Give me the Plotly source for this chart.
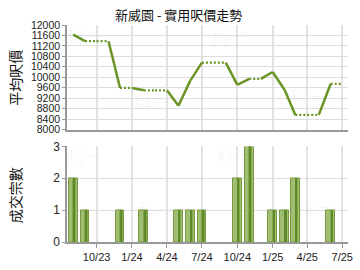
import plotly.graph_objects as go

# Monthly series, Aug 2023 - Jul 2025
months = ["2023-08-01", "2023-09-01", "2023-10-01", "2023-11-01", "2023-12-01",
          "2024-01-01", "2024-02-01", "2024-03-01", "2024-04-01", "2024-05-01",
          "2024-06-01", "2024-07-01", "2024-08-01", "2024-09-01", "2024-10-01",
          "2024-11-01", "2024-12-01", "2025-01-01", "2025-02-01", "2025-03-01",
          "2025-04-01", "2025-05-01", "2025-06-01", "2025-07-01"]
avg_price = [11630, 11380, 11380, 11380, 9590,
             9590, 9500, 9500, 9500, 8910,
             9880, 10560, 10560, 10560, 9710,
             9940, 9940, 10200, 9520, 8560,
             8560, 8560, 9750, 9750]
deals = [2, 1, 0, 0, 1,
         0, 1, 0, 0, 1,
         1, 1, 0, 0, 2,
         3, 0, 1, 1, 2,
         0, 0, 1, 0]

tick_vals = ["2023-10-01", "2024-01-01", "2024-04-01", "2024-07-01",
             "2024-10-01", "2025-01-01", "2025-04-01", "2025-07-01"]
tick_text = ["10/23", "1/24", "4/24", "7/24", "10/24", "1/25", "4/25", "7/25"]
price_ticks = list(range(8000, 12001, 400))
price_text = [str(v) for v in price_ticks]

title = "新威園 - 實用呎價走勢"
price_label = "平均呎價"
deals_label = "成交宗數"

LINE = "#6b9426"
FONT = "Liberation Sans, Arial, Noto Sans CJK TC, sans-serif"
CJK = "Noto Sans CJK TC, sans-serif"
DAY = 86400000

fig = go.Figure()

# price line: solid into months with deals, dotted where the price is carried over
sx, sy, dx, dy = [], [], [], []
for i in range(len(months) - 1):
    seg_x = [months[i], months[i + 1]]
    seg_y = [avg_price[i], avg_price[i + 1]]
    if deals[i + 1] > 0:
        sx += seg_x + [None]
        sy += seg_y + [None]
    else:
        dx += seg_x + [None]
        dy += seg_y + [None]

fig.add_trace(go.Scatter(x=dx, y=dy, mode="lines", xaxis="x2", yaxis="y2",
                         line=dict(color=LINE, width=2.2, dash="2px,2px"),
                         hoverinfo="skip", showlegend=False))
fig.add_trace(go.Scatter(x=sx, y=sy, mode="lines", xaxis="x2", yaxis="y2",
                         line=dict(color=LINE, width=2.5),
                         hoverinfo="skip", showlegend=False))

# deal-count bars with a shaded cylinder look
bx = [m for m, d in zip(months, deals) if d > 0]
by = [d for d in deals if d > 0]
fig.add_trace(go.Bar(x=bx, y=by, width=23 * DAY, xaxis="x", yaxis="y",
                     marker=dict(color="#a0bf72", line=dict(color="#78993f", width=1)),
                     showlegend=False, hoverinfo="skip"))
fig.add_trace(go.Bar(x=bx, y=by, width=9 * DAY, offset=-2 * DAY, xaxis="x", yaxis="y",
                     marker=dict(color="#82a64e", line=dict(width=0)),
                     showlegend=False, hoverinfo="skip"))
fig.add_trace(go.Bar(x=bx, y=by, width=4 * DAY, offset=1 * DAY, xaxis="x", yaxis="y",
                     marker=dict(color="#5e8a2a", line=dict(width=0)),
                     showlegend=False, hoverinfo="skip"))

xrange = ["2023-07-16", "2025-07-16"]
xcommon = dict(type="date", range=xrange, tickvals=tick_vals, ticktext=tick_text,
               showgrid=True, gridcolor="#e3e3e3", gridwidth=2,
               showline=True, linecolor="#999999", linewidth=2,
               ticks="outside", ticklen=4, tickcolor="#999999",
               tickfont=dict(family=FONT, size=11, color="#222"), zeroline=False)

W, H = 360, 270
L, R, T, B = 67, 7, 25, 27
pw, ph = W - L - R, H - T - B


def px(xp):
    return (xp - L) / pw


def py(yp):
    return (H - B - yp) / ph


def label(text, xp, yp, angle=0, size=13, color="#111"):
    return dict(text=text, x=px(xp), y=py(yp), xref="paper", yref="paper",
                xanchor="center", yanchor="middle", showarrow=False, textangle=angle,
                font=dict(family=CJK, size=size, color=color))


annotations = [
    label(title, 180, 14),
    label(price_label, 14, 78, angle=-90, size=14),
    label(deals_label, 14, 196, angle=-90, size=14),
]

# faint watermark
for wx, wy in [(85, 36), (232, 36), (152, 102), (312, 96),
               (85, 157), (157, 210), (238, 155), (318, 208)]:
    annotations.append(label("科一", wx, wy, size=18, color="rgba(0,0,0,0.04)"))

fig.update_layout(
    width=W, height=H,
    margin=dict(l=L, r=R, t=T, b=B),
    paper_bgcolor="white", plot_bgcolor="white",
    barmode="overlay", bargap=0,
    xaxis=dict(**xcommon, anchor="y"),
    xaxis2=dict(**{**xcommon, "showticklabels": False, "ticks": ""},
                anchor="y2", matches="x"),
    yaxis=dict(domain=[0, py(147)], range=[0, 3], dtick=1,
               showgrid=True, gridcolor="#dddddd", gridwidth=1,
               showline=True, linecolor="#999999", linewidth=1.5,
               ticks="outside", ticklen=3, tickcolor="#999999",
               tickfont=dict(family=FONT, size=12, color="#222"), zeroline=False),
    yaxis2=dict(domain=[py(130), 1], range=[8000, 12000],
                tickvals=price_ticks, ticktext=price_text,
                showgrid=True, gridcolor="#dddddd", gridwidth=1,
                showline=True, linecolor="#999999", linewidth=1.5,
                ticks="outside", ticklen=3, tickcolor="#999999",
                tickfont=dict(family=FONT, size=10.5, color="#222"), zeroline=False),
    annotations=annotations,
)

fig.write_html("out.html")
